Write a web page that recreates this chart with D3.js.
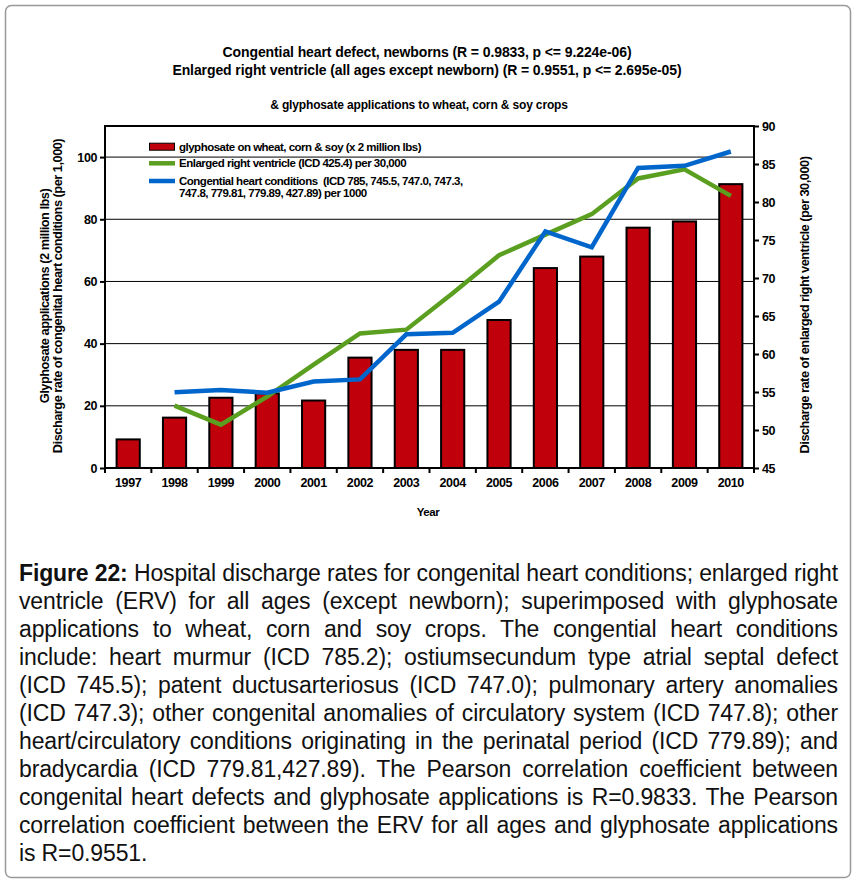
<!DOCTYPE html>
<html>
<head>
<meta charset="utf-8">
<script src="https://cdn.jsdelivr.net/npm/d3@7"></script>
<style>
  body { margin: 0; background: #fff; }
  svg text { font-family: "Liberation Sans", Arial, sans-serif; }
</style>
</head>
<body>
<svg id="fig" width="857" height="885"></svg>
<script>
// values
let years = ['1997', '1998', '1999', '2000', '2001', '2002', '2003', '2004', '2005', '2006', '2007', '2008', '2009', '2010'];
let glyphosate = [9.2, 16.2, 22.6, 24, 21.7, 35.5, 38, 38, 47.6, 64.3, 68, 77.3, 79.3, 91.3];
let lineYears = ['1998', '1999', '2000', '2001', '2002', '2003', '2004', '2005', '2006', '2007', '2008', '2009', '2010'];
let erv = [53.2, 50.7, 54.4, 58.6, 62.7, 63.2, 68.0, 73.0, 75.7, 78.4, 83.1, 84.3, 80.8];
let chd = [24.4, 25.1, 24.2, 27.8, 28.5, 43.0, 43.5, 53.5, 76.1, 71.0, 96.5, 97.2, 101.8];
let leftTicks = [0, 20, 40, 60, 80, 100];
let rightTicks = [45, 50, 55, 60, 65, 70, 75, 80, 85, 90];

let titleLines = [
    'Congential heart defect, newborns (R = 0.9833, p <= 9.224e-06)',
    'Enlarged right ventricle (all ages except newborn) (R = 0.9551, p <= 2.695e-05)'
];
let subTitle = '& glyphosate applications to wheat, corn & soy crops';

let legendItems = [
    {type: 'bar', color: '#c0000b', lines: ['glyphosate on wheat, corn & soy (x 2 million lbs)']},
    {type: 'line', color: '#5b9f20', lines: ['Enlarged right ventricle (ICD 425.4) per 30,000']},
    {type: 'line', color: '#0066cc', lines: ['Congential heart conditions  (ICD 785, 745.5, 747.0, 747.3,', '747.8, 779.81, 779.89, 427.89) per 1000']}
];

let caption = [
    ['Figure 22:', ' Hospital discharge rates for congenital heart conditions; enlarged right'],
    ['', 'ventricle (ERV) for all ages (except newborn); superimposed with glyphosate'],
    ['', 'applications to wheat, corn and soy crops. The congential heart conditions'],
    ['', 'include: heart murmur (ICD 785.2); ostiumsecundum type atrial septal defect'],
    ['', '(ICD 745.5); patent ductusarteriosus (ICD 747.0); pulmonary artery anomalies'],
    ['', '(ICD 747.3); other congenital anomalies of circulatory system (ICD 747.8); other'],
    ['', 'heart/circulatory conditions originating in the perinatal period (ICD 779.89); and'],
    ['', 'bradycardia (ICD 779.81,427.89). The Pearson correlation coefficient between'],
    ['', 'congenital heart defects and glyphosate applications is R=0.9833. The Pearson'],
    ['', 'correlation coefficient between the ERV for all ages and glyphosate applications'],
    ['', 'is R=0.9551.']
];

let svg = d3.select('#fig');

svg.append('rect')
    .attr('x', 5.5).attr('y', 5.5)
    .attr('width', 845).attr('height', 872)
    .attr('rx', 6)
    .attr('fill', '#fff')
    .attr('stroke', '#999')
    .attr('stroke-width', 1.5);

let pLeft = 105, pRight = 754, pTop = 126, pBottom = 468;

let x = d3.scaleBand().domain(years).range([pLeft, pRight]);
let yL = d3.scaleLinear().domain([0, 110]).range([pBottom, pTop]);
let yR = d3.scaleLinear().domain([45, 90]).range([pBottom, pTop]);

// titles
svg.selectAll('.title')
    .data(titleLines)
    .enter()
    .append('text')
    .attr('x', 427)
    .attr('y', (d, i) => 57 + i * 18)
    .attr('text-anchor', 'middle')
    .attr('font-size', '14px')
    .attr('font-weight', 'bold')
    .attr('letter-spacing', '-0.1')
    .text(d => d);

svg.append('text')
    .attr('x', 419)
    .attr('y', 109)
    .attr('text-anchor', 'middle')
    .attr('font-size', '12px')
    .attr('font-weight', 'bold')
    .attr('letter-spacing', '-0.15')
    .text(subTitle);

// gridlines
svg.append('g')
    .selectAll('line')
    .data(leftTicks.filter(d => d > 0))
    .enter()
    .append('line')
    .attr('x1', pLeft).attr('x2', pRight)
    .attr('y1', d => yL(d)).attr('y2', d => yL(d))
    .attr('stroke', '#000')
    .attr('stroke-width', 1);

// bars
let bw = x.bandwidth() * 0.5;
svg.append('g')
    .selectAll('rect')
    .data(years)
    .enter()
    .append('rect')
    .attr('x', d => x(d) + (x.bandwidth() - bw) / 2)
    .attr('y', (d, i) => yL(glyphosate[i]))
    .attr('width', bw)
    .attr('height', (d, i) => yL(0) - yL(glyphosate[i]))
    .attr('fill', '#c0000b')
    .attr('stroke', '#000')
    .attr('stroke-width', 2);

// lines
let ervLine = d3.line()
    .x((d, i) => x(lineYears[i]) + x.bandwidth() / 2)
    .y(d => yR(d));

let chdLine = d3.line()
    .x((d, i) => x(lineYears[i]) + x.bandwidth() / 2)
    .y(d => yL(d));

svg.append('path')
    .datum(erv)
    .attr('d', ervLine)
    .attr('fill', 'none')
    .attr('stroke', '#5b9f20')
    .attr('stroke-width', 4.5);

svg.append('path')
    .datum(chd)
    .attr('d', chdLine)
    .attr('fill', 'none')
    .attr('stroke', '#0066cc')
    .attr('stroke-width', 4.5);

// frame
svg.append('rect')
    .attr('x', pLeft).attr('y', pTop)
    .attr('width', pRight - pLeft).attr('height', pBottom - pTop)
    .attr('fill', 'none')
    .attr('stroke', '#000')
    .attr('stroke-width', 2);

// axes
let axL = svg.append('g')
    .attr('transform', 'translate(' + pLeft + ',0)')
    .call(d3.axisLeft(yL).tickValues(leftTicks).tickSize(5).tickPadding(3));

let axR = svg.append('g')
    .attr('transform', 'translate(' + pRight + ',0)')
    .call(d3.axisRight(yR).tickValues(rightTicks).tickSize(5).tickPadding(3));

let axB = svg.append('g')
    .attr('transform', 'translate(0,' + pBottom + ')')
    .call(d3.axisBottom(x).tickSize(0).tickPadding(10));

[axL, axR, axB].forEach(function (g) {
    g.select('.domain').remove();
    g.selectAll('line').attr('stroke', '#000').attr('stroke-width', 2);
    g.selectAll('text')
        .attr('font-family', '"Liberation Sans", Arial, sans-serif')
        .attr('font-size', '12.5px')
        .attr('font-weight', 'bold')
        .attr('letter-spacing', '-0.4')
        .attr('fill', '#000');
});

// x ticks at the band edges
svg.append('g')
    .selectAll('line')
    .data(years.concat(['end']))
    .enter()
    .append('line')
    .attr('x1', d => d === 'end' ? pRight : x(d))
    .attr('x2', d => d === 'end' ? pRight : x(d))
    .attr('y1', pBottom)
    .attr('y2', pBottom + 5)
    .attr('stroke', '#000')
    .attr('stroke-width', 2);

// axis titles
function axisTitle(tx, ty, label) {
    svg.append('text')
        .attr('transform', 'translate(' + tx + ',' + ty + ') rotate(-90)')
        .attr('dy', '0.35em')
        .attr('text-anchor', 'middle')
        .attr('font-size', '12.8px')
        .attr('font-weight', 'bold')
        .attr('letter-spacing', '-0.5')
        .text(label);
}
axisTitle(45, 296, 'Glyphosate applications (2 million lbs)');
axisTitle(58, 296, 'Discharge rate of congenital heart conditions (per 1,000)');
axisTitle(805, 305, 'Discharge rate of enlarged right ventricle (per 30,000)');

svg.append('text')
    .attr('x', 428)
    .attr('y', 516)
    .attr('text-anchor', 'middle')
    .attr('font-size', '11.5px')
    .attr('font-weight', 'bold')
    .attr('letter-spacing', '-0.4')
    .text('Year');

// legend
let lg = svg.append('g');
let legendY = [146.7, 163.3, 181];
legendItems.forEach(function (item, i) {
    let cy = legendY[i];
    if (item.type === 'bar') {
        lg.append('rect')
            .attr('x', 149.5).attr('y', cy - 3.5)
            .attr('width', 25).attr('height', 7)
            .attr('fill', item.color)
            .attr('stroke', '#000')
            .attr('stroke-width', 1);
    } else {
        lg.append('line')
            .attr('x1', 149).attr('x2', 175)
            .attr('y1', cy).attr('y2', cy)
            .attr('stroke', item.color)
            .attr('stroke-width', 4.5);
    }
    item.lines.forEach(function (t, j) {
        lg.append('text')
            .attr('x', 179)
            .attr('y', cy + 4 + j * 11.7)
            .attr('font-size', '11.5px')
            .attr('font-weight', 'bold')
            .attr('letter-spacing', '-0.5')
            .style('white-space', 'pre')
            .text(t);
    });
});

// caption, justified line by line
let capLeft = 19, capRight = 838, capW = capRight - capLeft;
let capNodes = caption.map(function (c, i) {
    let t = svg.append('text')
        .attr('x', capLeft)
        .attr('y', 581 + i * 28)
        .attr('font-size', '23px')
        .attr('fill', '#111');
    if (c[0]) {
        t.append('tspan').attr('font-weight', 'bold').text(c[0]);
    }
    t.append('tspan').style('white-space', 'pre').text(c[1]);
    return t;
});

// one letter-spacing for all lines, so that the widest line just fits
let ls = 0;
capNodes.forEach(function (t, i) {
    let s = caption[i][0] + caption[i][1];
    let need = (capW - t.node().getComputedTextLength()) / (s.length - 1);
    if (need < ls) ls = need;
});
capNodes.forEach(function (t, i) {
    t.attr('letter-spacing', ls);
    if (i === caption.length - 1) return;
    let s = (caption[i][0] + caption[i][1]).trim();
    let gaps = s.split(' ').length - 1;
    let extra = capW - t.node().getComputedTextLength();
    t.attr('word-spacing', Math.max(0, extra / gaps));
});
</script>
</body>
</html>
